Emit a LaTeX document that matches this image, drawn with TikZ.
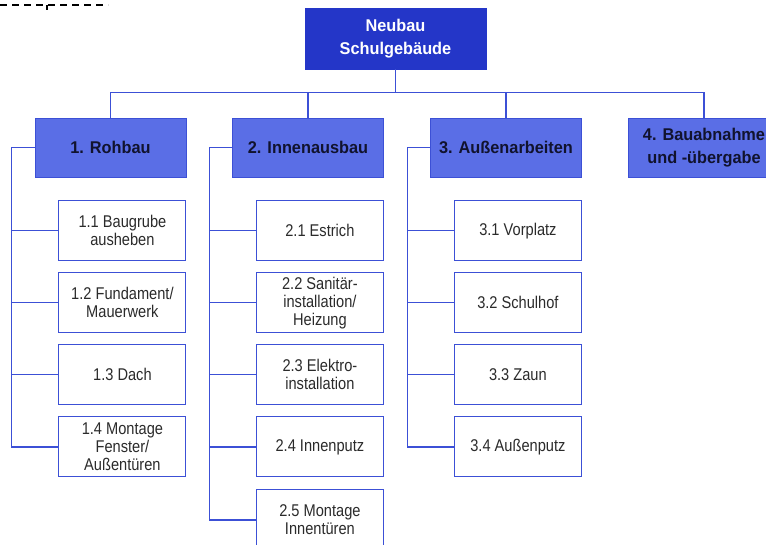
\documentclass[tikz,border=0pt]{standalone}
\usepackage{fontspec}
\setmainfont[FakeStretch=0.86]{Liberation Sans}
\newfontfamily\headfont[FakeStretch=0.96]{Liberation Sans}
\usetikzlibrary{positioning}
\definecolor{rootFill}{HTML}{2436C8}
\definecolor{phaseFill}{HTML}{5A6EE6}
\definecolor{lineBlue}{HTML}{3C50D6}
\definecolor{phaseText}{HTML}{11132E}
\definecolor{taskText}{HTML}{2B2B2B}

\begin{document}
\begin{tikzpicture}[
  x=1pt, y=-1pt,
  font=\fontsize{17}{18}\selectfont,
  root/.style  ={draw=rootFill, fill=rootFill, text=white, font=\headfont\bfseries\fontsize{17}{23}\selectfont, minimum width=181pt, minimum height=61pt, align=center, inner sep=2pt},
  phase/.style ={draw=lineBlue, fill=phaseFill, text=phaseText, font=\headfont\bfseries\fontsize{17}{23}\selectfont, line width=0.8pt, minimum width=151pt, minimum height=59pt, align=center, inner sep=2pt},
  task/.style  ={draw=lineBlue, fill=white, text=taskText, line width=1pt, minimum width=127pt, minimum height=60pt, align=center, inner sep=2pt},
  link/.style  ={draw=lineBlue, line width=1.2pt},
]
\useasboundingbox (0,0) rectangle (766,545);

% ============ scan mark top left ============
\draw[line width=1.6pt, dash pattern=on 7pt off 5pt] (0,5) -- (108,5);
\draw[line width=1.4pt] (47,5) -- (47,10);

% ============ Root and phases ============
\node[root] (root) at (395.5,38.5) {Neubau\\Schulgebäude};

\node[phase] (p1) at (110.5,147.5) {1. Rohbau};
\node[phase] (p2) at (308,147.5)   {2. Innenausbau};
\node[phase] (p3) at (506,147.5)   {3. Außenarbeiten};
\node[phase] (p4) at (704,147.5)   {4. Bauabnahme\\und -übergabe};

% ============ Rohbau ============
\node[task, below=23pt of p1.south east, anchor=north east] (k11) {1.1 Baugrube\\ausheben};
\node[task, below=11pt of k11] (k12) {1.2 Fundament/\\Mauerwerk};
\node[task, below=11pt of k12] (k13) {1.3 Dach};
\node[task, below=11pt of k13] (k14) {1.4 Montage\\Fenster/\\Außentüren};

% ============ Innenausbau ============
\node[task, below=23pt of p2.south east, anchor=north east] (k21) {2.1 Estrich};
\node[task, below=11pt of k21] (k22) {2.2 Sanitär-\\installation/\\Heizung};
\node[task, below=11pt of k22] (k23) {2.3 Elektro-\\installation};
\node[task, below=11pt of k23] (k24) {2.4 Innenputz};
\node[task, below=12pt of k24] (k25) {2.5 Montage\\Innentüren};

% ============ Außenarbeiten ============
\node[task, below=23pt of p3.south east, anchor=north east] (k31) {3.1 Vorplatz};
\node[task, below=11pt of k31] (k32) {3.2 Schulhof};
\node[task, below=11pt of k32] (k33) {3.3 Zaun};
\node[task, below=11pt of k33] (k34) {3.4 Außenputz};

% ============ Connectors ============
\foreach \p in {p1, p2, p3, p4} {
  \draw[link] (root.south) -- ++(0,23) -| (\p.north);
}
\foreach \p/\k in {p1/k11, p1/k12, p1/k13, p1/k14,
                   p2/k21, p2/k22, p2/k23, p2/k24, p2/k25,
                   p3/k31, p3/k32, p3/k33, p3/k34} {
  \draw[link] (\p.west) -- ++(-23,0) |- (\k.west);
}

\end{tikzpicture}
\end{document}
